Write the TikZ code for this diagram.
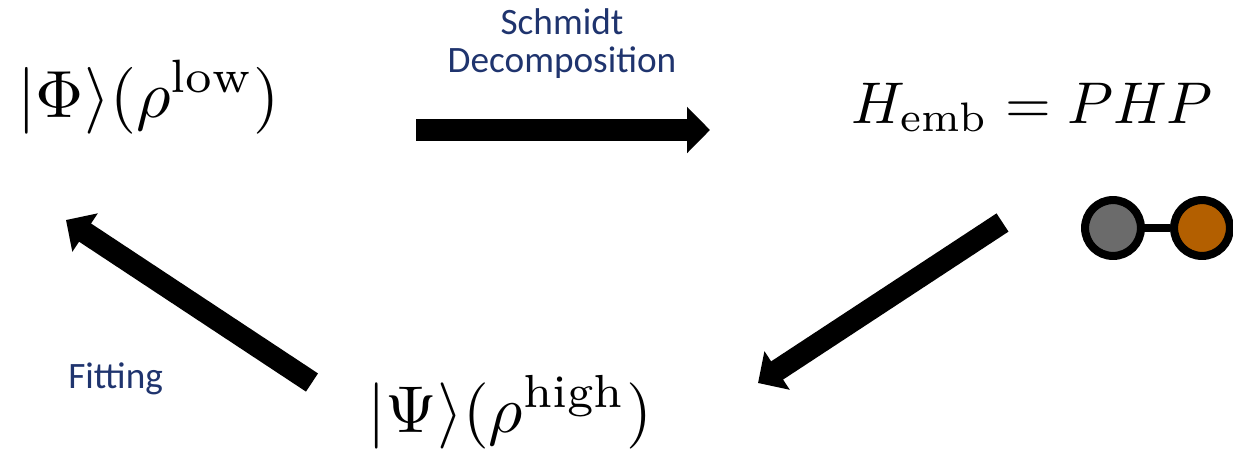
\documentclass[tikz,border=0pt]{standalone}
\usepackage{fontspec}
\newfontfamily\calibri{Carlito}
\usetikzlibrary{arrows.meta}
\definecolor{navy}{RGB}{31,52,110}
\definecolor{atomgray}{RGB}{107,107,107}
\definecolor{atomorange}{RGB}{179,95,0}
\tikzset{
  bigarrow/.style={line width=12.4pt,-{Triangle[length=13pt,width=25.5pt]}},
  formula/.style={inner sep=0pt,anchor=base west},
  lbl/.style={inner sep=0pt,anchor=base,text=navy,font=\calibri\fontsize{21.2}{21.5}\selectfont,align=center},
  atom/.style={circle,draw=black,line width=4.6pt,minimum size=31.8pt,inner sep=0pt},
}
\begin{document}
\begin{tikzpicture}[x=0.02cm,y=-0.02cm]
\useasboundingbox (0,0) rectangle (1233,454);
% formulas
\node[formula,scale=3.8] (phi) at (16,117) {$|\Phi\rangle(\rho^{\mathrm{low}})$};
\node[formula,scale=3.35] (hemb) at (850,123) {$H_{\mathrm{emb}}=PHP$};
\node[formula,scale=3.77] (psi) at (366,432) {$|\Psi\rangle(\rho^{\mathrm{high}})$};
% labels
\node[lbl] (schmidt) at (562,72) {Schmidt\\Decomposition};
\node[lbl,anchor=base west] (fit) at (68,388) {Fitting};
% arrow endpoints
\coordinate (a1s) at (416,130);
\coordinate (a1e) at (710,130);
\coordinate (a2s) at (1002.5,222.5);
\coordinate (a2e) at (758,383);
\coordinate (a3s) at (312,382.5);
\coordinate (a3e) at (66,220);
\draw[bigarrow] (a1s) -- (a1e);
\draw[bigarrow] (a2s) -- (a2e);
\draw[bigarrow] (a3s) -- (a3e);
% atoms
\node[atom,fill=atomgray] (g) at (1113,228) {};
\node[atom,fill=atomorange] (o) at (1202,228) {};
\draw[line width=4.6pt] (g) -- (o);
\end{tikzpicture}
\end{document}
